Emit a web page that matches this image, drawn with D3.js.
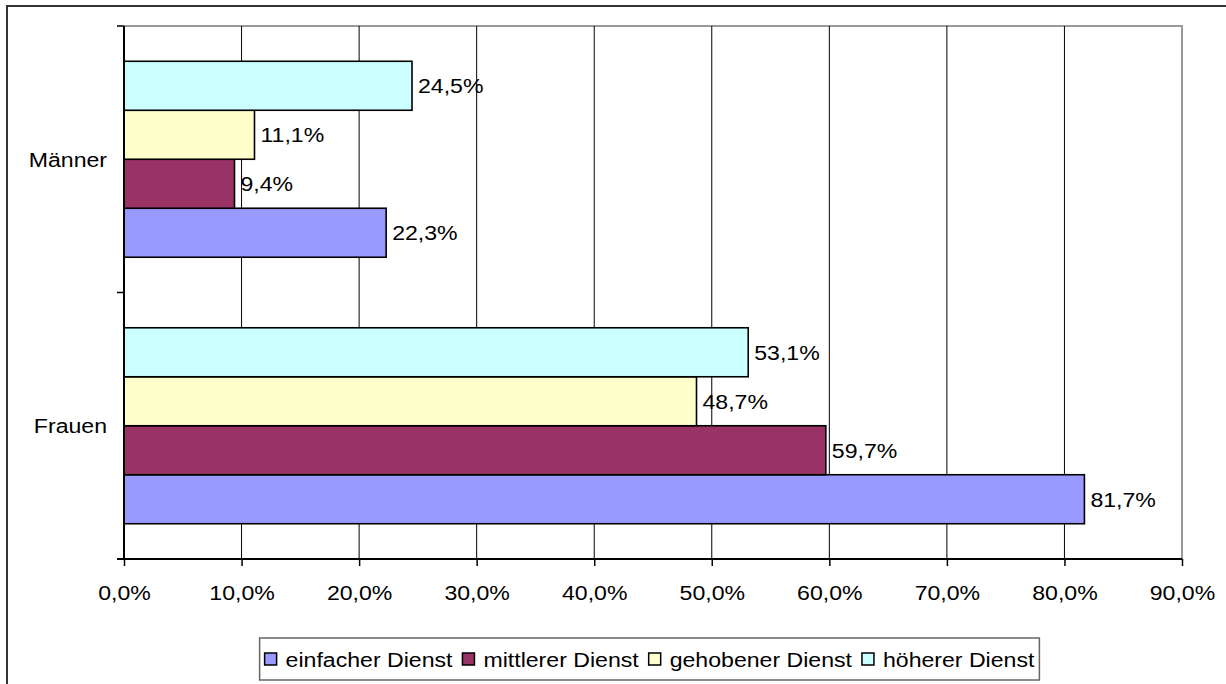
<!DOCTYPE html>
<html>
<head>
<meta charset="utf-8">
<script src="https://cdn.jsdelivr.net/npm/d3@7"></script>
<style>
  body { margin: 0; background: #fff; }
  svg { display: block; font-family: "Liberation Sans", Arial, sans-serif; }
</style>
</head>
<body>
<div id="chart"></div>
<script>
// categories top to bottom, series top to bottom inside a group
const categories = ["Männer", "Frauen"];
const seriesNames = ["einfacher Dienst", "mittlerer Dienst", "gehobener Dienst", "höherer Dienst"];
const seriesColors = ["#9999FF", "#993366", "#FFFFCC", "#CCFFFF"];
const einfacher = [22.3, 81.7];
const mittlerer = [9.4, 59.7];
const gehobener = [11.1, 48.7];
const hoeherer = [24.5, 53.1];
const xTicks = [0, 10, 20, 30, 40, 50, 60, 70, 80, 90];

const seriesValues = [einfacher, mittlerer, gehobener, hoeherer];

const W = 1226, H = 684;
const plot = { left: 124, right: 1182, top: 26, bottom: 559 };
const FS = 21, SX = 1.1; // text in the original is a bit wider than Arial
const fmt = v => v.toFixed(1).replace(".", ",") + "%";

const svg = d3.select("#chart").append("svg")
    .attr("width", W)
    .attr("height", H);

// outer chart frame (runs past the right and bottom edge)
svg.append("rect")
    .attr("x", 7).attr("y", 6)
    .attr("width", W + 20).attr("height", H + 20)
    .attr("fill", "#fff")
    .attr("stroke", "#333")
    .attr("stroke-width", 2);

const x = d3.scaleLinear().domain([0, 90]).range([plot.left, plot.right]);
const y0 = d3.scaleBand().domain(categories).range([plot.top, plot.bottom]).padding(0);
// series drawn bottom-up: einfacher at the bottom of each group
const y1 = d3.scaleBand()
    .domain(seriesNames.slice().reverse())
    .range([0, y0.bandwidth()])
    .paddingInner(0)
    .paddingOuter(0.72);

// plot area border (gray top & right)
svg.append("path")
    .attr("d", `M${plot.left},${plot.top}H${plot.right}V${plot.bottom}`)
    .attr("fill", "none")
    .attr("stroke", "#999")
    .attr("stroke-width", 2);

// vertical gridlines
svg.append("g").selectAll("line")
    .data(xTicks.slice(1, -1))
    .enter().append("line")
    .attr("x1", d => x(d)).attr("x2", d => x(d))
    .attr("y1", plot.top).attr("y2", plot.bottom)
    .attr("stroke", "#000")
    .attr("stroke-width", 1);

// bars
const groups = svg.append("g").selectAll("g")
    .data(categories)
    .enter().append("g")
    .attr("transform", d => `translate(0,${y0(d)})`);

const barData = ci => seriesNames.map((s, si) => ({ series: s, color: seriesColors[si], value: seriesValues[si][ci] }));

groups.each(function (cat, ci) {
    const g = d3.select(this);
    const bars = barData(ci);
    g.selectAll("rect")
        .data(bars)
        .enter().append("rect")
        .attr("x", x(0))
        .attr("y", d => y1(d.series))
        .attr("width", d => x(d.value) - x(0))
        .attr("height", y1.bandwidth())
        .attr("fill", d => d.color)
        .attr("stroke", "#000")
        .attr("stroke-width", 1.6);
    g.selectAll("text")
        .data(bars)
        .enter().append("text")
        .attr("transform", d => `translate(${x(d.value) + 6},${y1(d.series) + y1.bandwidth() / 2}) scale(${SX},1)`)
        .attr("dy", "0.36em")
        .attr("font-size", FS)
        .attr("fill", "#000")
        .text(d => fmt(d.value));
});

// x axis
const xAxis = svg.append("g")
    .attr("transform", `translate(0,${plot.bottom})`)
    .call(d3.axisBottom(x).tickValues(xTicks).tickSize(7).tickFormat(fmt));
xAxis.select(".domain").attr("stroke", "#000").attr("stroke-width", 2)
    .attr("d", `M${plot.left - 7},0H${plot.right}`);
xAxis.selectAll(".tick line").attr("stroke", "#000").attr("stroke-width", 1.5);
xAxis.selectAll(".tick text")
    .attr("font-family", "Liberation Sans, Arial, sans-serif")
    .attr("font-size", FS)
    .attr("fill", "#000")
    .attr("y", 0)
    .attr("dy", "0")
    .attr("transform", `translate(0,41) scale(${SX},1)`);

// y axis: category labels with ticks at band borders
const yAxis = svg.append("g");
yAxis.append("line")
    .attr("x1", plot.left).attr("x2", plot.left)
    .attr("y1", plot.top).attr("y2", plot.bottom)
    .attr("stroke", "#000").attr("stroke-width", 2);
const borders = [plot.top].concat(categories.map(c => y0(c) + y0.bandwidth()));
yAxis.selectAll(".bt")
    .data(borders)
    .enter().append("line")
    .attr("x1", plot.left - 7).attr("x2", plot.left)
    .attr("y1", d => d).attr("y2", d => d)
    .attr("stroke", "#000").attr("stroke-width", 1.5);
yAxis.selectAll("text")
    .data(categories)
    .enter().append("text")
    .attr("transform", d => `translate(${plot.left - 17},${y0(d) + y0.bandwidth() / 2}) scale(${SX},1)`)
    .attr("dy", "0.36em")
    .attr("text-anchor", "end")
    .attr("font-size", FS)
    .attr("fill", "#000")
    .text(d => d);

// legend
const legend = svg.append("g");
const box = legend.append("rect")
    .attr("fill", "#fff")
    .attr("stroke", "#666")
    .attr("stroke-width", 1.5);
const items = legend.append("g");
let cx = 0;
seriesNames.forEach((s, i) => {
    const it = items.append("g").attr("transform", `translate(${cx},0)`);
    it.append("rect")
        .attr("x", 0).attr("y", -6)
        .attr("width", 12).attr("height", 12)
        .attr("fill", seriesColors[i])
        .attr("stroke", "#000")
        .attr("stroke-width", 1.5);
    const t = it.append("text")
        .attr("transform", `translate(21,0) scale(${SX},1)`)
        .attr("dy", "0.36em")
        .attr("font-size", FS)
        .attr("fill", "#000")
        .text(s);
    cx += 21 + t.node().getComputedTextLength() * SX + 10;
});
const contentW = cx - 10;
const legCx = 649.5, legY = 659;
const boxW = contentW + 10;
box.attr("x", legCx - boxW / 2).attr("y", 638)
    .attr("width", boxW).attr("height", 42);
items.attr("transform", `translate(${legCx - contentW / 2},${legY})`);
</script>
</body>
</html>
